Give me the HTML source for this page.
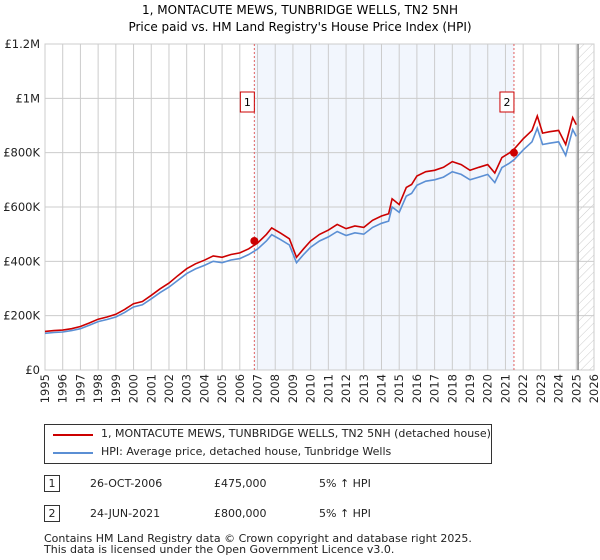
<!DOCTYPE html>
<html><head><meta charset="utf-8"><style>
body{margin:0;background:#fff;font-family:"DejaVu Sans","Liberation Sans",sans-serif;color:#222}
#wrap{position:relative;width:600px;height:560px}
</style></head><body>
<div id="wrap">
<svg id="chart" width="600" height="420" style="position:absolute;left:0;top:0">
<defs><pattern id="hatch" width="6" height="6" patternUnits="userSpaceOnUse" patternTransform="rotate(45)"><line x1="0" y1="0" x2="0" y2="6" stroke="#ccc" stroke-width="1"/></pattern></defs>
<text x="300" y="14" text-anchor="middle" font-size="12">1, MONTACUTE MEWS, TUNBRIDGE WELLS, TN2 5NH</text>
<text x="300" y="31" text-anchor="middle" font-size="12">Price paid vs. HM Land Registry's House Price Index (HPI)</text>
<g id="grid"></g><g id="series"></g>
</svg>
<div style="position:absolute;left:44px;top:424px;width:446px;height:38px;border:1px solid #333;font-size:11px">
<div style="position:absolute;left:8px;top:9px;width:40px;border-top:2px solid #c00"></div>
<div style="position:absolute;left:56px;top:2px">1, MONTACUTE MEWS, TUNBRIDGE WELLS, TN2 5NH (detached house)</div>
<div style="position:absolute;left:8px;top:27px;width:40px;border-top:2px solid #5b8fd4"></div>
<div style="position:absolute;left:56px;top:20px">HPI: Average price, detached house, Tunbridge Wells</div>
</div>
<div style="font-size:11px">
<div style="position:absolute;left:44px;top:475px;width:14px;height:15px;border:1px solid #333;text-align:center;line-height:15px">1</div>
<div style="position:absolute;left:90px;top:477px">26-OCT-2006</div>
<div style="position:absolute;left:214px;top:477px">£475,000</div>
<div style="position:absolute;left:319px;top:477px">5% ↑ HPI</div>
<div style="position:absolute;left:44px;top:505px;width:14px;height:15px;border:1px solid #333;text-align:center;line-height:15px">2</div>
<div style="position:absolute;left:90px;top:507px">24-JUN-2021</div>
<div style="position:absolute;left:214px;top:507px">£800,000</div>
<div style="position:absolute;left:319px;top:507px">5% ↑ HPI</div>
<div style="position:absolute;left:44px;top:533px;line-height:11px">Contains HM Land Registry data © Crown copyright and database right 2025.<br>This data is licensed under the Open Government Licence v3.0.</div>
</div>
</div>
<script>
const times=[1995.0,1995.5,1996.0,1996.5,1997.0,1997.5,1998.0,1998.5,1999.0,1999.5,2000.0,2000.5,2001.0,2001.5,2002.0,2002.5,2003.0,2003.5,2004.0,2004.5,2005.0,2005.5,2006.0,2006.5,2007.0,2007.5,2007.8,2008.3,2008.8,2009.2,2009.6,2010.0,2010.5,2011.0,2011.5,2012.0,2012.5,2013.0,2013.5,2014.0,2014.4,2014.6,2015.0,2015.4,2015.7,2016.0,2016.5,2017.0,2017.5,2018.0,2018.5,2019.0,2019.5,2020.0,2020.4,2020.8,2021.2,2021.5,2022.0,2022.5,2022.8,2023.1,2023.5,2024.0,2024.4,2024.8,2025.0];
const hpiValues=[135,138,140,145,152,165,178,186,195,212,232,240,262,285,305,330,355,372,385,400,395,405,410,425,445,475,498,480,460,395,425,452,475,490,510,495,505,500,525,540,548,600,580,640,650,680,695,700,710,730,720,700,710,720,690,745,760,775,810,840,890,830,835,840,790,885,860];
const propValues=[142,145,147,152,160,173,187,195,205,223,244,252,275,299,320,347,373,391,404,420,415,425,431,446,467,499,523,504,483,415,446,475,499,515,536,520,530,525,551,567,575,630,609,672,683,714,730,735,746,767,756,735,746,756,725,782,798,814,851,882,935,872,877,882,830,929,903];
const saleTimes=[2006.82,2021.48];
const salePrices=[475,800];
const yTicks=[0,200,400,600,800,1000,1200];
const yTickLabels=["£0","£200K","£400K","£600K","£800K","£1M","£1.2M"];
const xYears=[1995,1996,1997,1998,1999,2000,2001,2002,2003,2004,2005,2006,2007,2008,2009,2010,2011,2012,2013,2014,2015,2016,2017,2018,2019,2020,2021,2022,2023,2024,2025,2026];
const X0=45,X1=594,Y0=370,Y1=44;
const xs=t=>X0+(t-1995)/31*(X1-X0);
const ys=v=>Y0-v/1200*(Y0-Y1);
const NS="http://www.w3.org/2000/svg";
function mk(tag,attrs,parent){const e=document.createElementNS(NS,tag);for(const k in attrs)e.setAttribute(k,attrs[k]);parent.appendChild(e);return e;}
const g=document.getElementById('grid'),s=document.getElementById('series');
let r=mk('rect',{x:xs(saleTimes[0]),y:Y1,width:xs(saleTimes[1])-xs(saleTimes[0]),height:Y0-Y1,fill:'#f2f6fd'},g);


r=mk('rect',{x:xs(2025.1),y:Y1,width:X1-xs(2025.1),height:Y0-Y1,fill:'url(#hatch)'},g);


yTicks.forEach((v,i)=>{
 const l=mk('line',{x1:X0,x2:X1,y1:ys(v),y2:ys(v),stroke:'#ccc'},g);
 
 
 const t=mk('text',{x:X0-5,y:ys(v)+4,'text-anchor':'end','font-size':'11.5',fill:'#222'},g);
 t.textContent=yTickLabels[i];
 
 
});
xYears.forEach(yr=>{
 const l=mk('line',{x1:xs(yr),x2:xs(yr),y1:Y1,y2:Y0,stroke:'#ccc'},g);
 
 
 const t=mk('text',{transform:'translate('+(xs(yr)+4).toFixed(1)+','+(Y0+4)+') rotate(-90)','text-anchor':'end','font-size':'11.5',fill:'#222'},g);
 t.textContent=yr;
 
 
});
let b=mk('rect',{x:X0,y:Y1,width:X1-X0,height:Y0-Y1,fill:'none',stroke:'#ccc'},g);


let nl=mk('line',{x1:xs(2025.1),x2:xs(2025.1),y1:Y1,y2:Y0,stroke:'#888','stroke-width':1.5},g);


saleTimes.forEach((t,i)=>{
 const l=mk('line',{x1:xs(t),x2:xs(t),y1:Y1,y2:Y0,stroke:'#e06060','stroke-dasharray':'2,2'},s);
 
 
});
const pts=a=>times.map((t,i)=>xs(t).toFixed(1)+','+ys(a[i]).toFixed(1)).join(' ');
let p=mk('polyline',{points:pts(hpiValues),fill:'none',stroke:'#5b8fd4','stroke-width':1.6},s);


p=mk('polyline',{points:pts(propValues),fill:'none',stroke:'#cc0000','stroke-width':1.6},s);


saleTimes.forEach((t,i)=>{
 const c=mk('circle',{cx:xs(t),cy:ys(salePrices[i]),r:4,fill:'#cc0000'},s);
 
 
 const bx=mk('rect',{x:xs(t)-14,y:92,width:14,height:20,fill:'#fff',stroke:'#cc0000'},s);
 
 
 const tx=mk('text',{x:xs(t)-7,y:106,'text-anchor':'middle','font-size':'11'},s);
 tx.textContent=String(i+1);
 
 
});
</script>
</body></html>
